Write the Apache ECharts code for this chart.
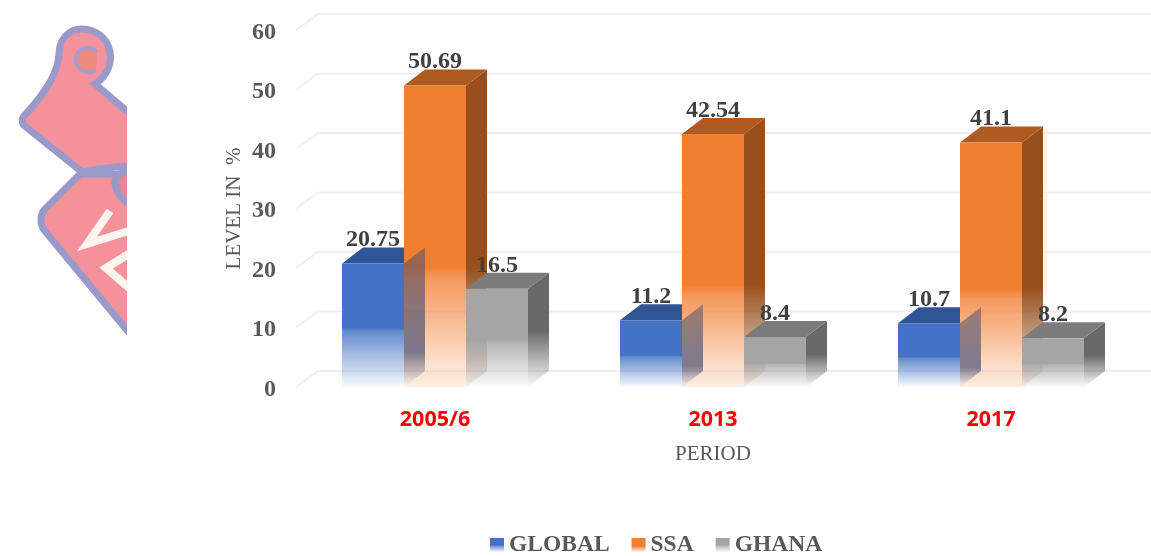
<!DOCTYPE html>
<html>
<head>
<meta charset="utf-8">
<style>html,body{margin:0;padding:0;background:#fff}#c{width:1151px;height:556px}</style>
<script src="https://cdn.jsdelivr.net/npm/echarts@6/dist/echarts.min.js"></script>
</head>
<body>
<div id="c"></div>
<script>
const categories = ['2005/6', '2013', '2017'];
const globalValues = [20.75, 11.2, 10.7];
const ssaValues = [50.69, 42.54, 41.1];
const ghanaValues = [16.5, 8.4, 8.2];
const yTicks = [0, 10, 20, 30, 40, 50, 60];

const SERIF = '"Liberation Serif","Times New Roman",serif';
const DX = 21, DY = 16, BAR_RATIO = 62 / 278;

function vGrad(stops) {
  return new echarts.graphic.LinearGradient(0, 0, 0, 1, stops.map(s => ({ offset: s[0], color: s[1] })));
}
function fade(rgb, knee) {
  return vGrad([
    [0, `rgba(${rgb},1)`], [knee, `rgba(${rgb},1)`],
    [knee + 0.03, `rgba(${rgb},0.82)`], [1, `rgba(${rgb},0.04)`]
  ]);
}
const looks = {
  GLOBAL: { front: fade('68,114,196', 0.52), top: '#2f5597', offset: -1,
    side: vGrad([[0, 'rgba(60,70,110,0.45)'], [0.5, 'rgba(60,70,110,0.6)'], [0.75, 'rgba(60,70,110,0.65)'], [1, 'rgba(60,70,110,0)']]), overlay: true },
  SSA: { front: vGrad([[0, 'rgba(241,127,49,1)'], [0.6, 'rgba(241,127,49,1)'], [0.64, 'rgba(241,135,65,0.85)'], [1, 'rgba(241,127,49,0.08)']]),
    top: '#ae5a21', offset: 0, floor: 'rgba(252,238,226,0.45)',
    side: vGrad([[0, '#964f1d'], [0.62, '#964f1d'], [1, 'rgba(150,79,29,0.08)']]) },
  GHANA: { front: fade('165,165,165', 0.52), top: '#7c7c7c', offset: 1,
    side: vGrad([[0, '#686868'], [0.5, '#686868'], [1, 'rgba(104,104,104,0.02)']]) }
};

function poly(points, fill) {
  return { type: 'polygon', shape: { points }, style: { fill }, silent: true };
}
function renderBar(name) {
  const look = looks[name];
  return function (params, api) {
    const idx = api.value(0), val = api.value(1);
    const topPt = api.coord([idx, val]), basePt = api.coord([idx, 0]);
    const w = api.size([1, 0])[0] * BAR_RATIO;
    const l = topPt[0] + look.offset * w - w / 2, r = l + w;
    const t = topPt[1], b = basePt[1];
    const children = [];
    if (look.floor) {
      children.push(poly([[l, b], [l + DX, b - DY], [r, b - DY], [r, b]], look.floor));
    }
    children.push(poly([[r, t], [r + DX, t - DY], [r + DX, b - DY], [r, b]], look.side));
    if (look.overlay) {
      children.push(poly([[l, t], [l + DX, t - DY], [r, t - DY], [r, t]], look.top));
    } else {
      children.push(poly([[l, t], [l + DX, t - DY], [r + DX, t - DY], [r, t]], look.top));
    }
    children.push({ type: 'rect', shape: { x: l, y: t, width: w, height: b - t }, style: { fill: look.front }, silent: true });
    children.push({
      type: 'text', z2: 50, silent: true,
      style: {
        x: (l + r) / 2, y: t - DY - 7.5, text: String(val), align: 'center', verticalAlign: 'middle',
        font: 'bold 24px ' + SERIF, fill: '#404040'
      }
    });
    return { type: 'group', children };
  };
}

function renderGridLine(params, api) {
  const cs = params.coordSys;
  const y = api.coord([0, api.value(0)])[1];
  return {
    type: 'polyline', silent: true,
    shape: { points: [[cs.x, y], [cs.x + DX + 1, y - DY], [1151, y - DY]] },
    style: { fill: 'none', stroke: '#efefef', lineWidth: 2 }
  };
}

const logoTop = 'M135 118 L95 84 C108 76 112 62 110 52 C107 35 92 29 82 29 C68 29 59 40 59 54 C58 70 50 88 24 116 C21 120 22 124 26 127 L82 172 C95 169 120 166 135 166 Z';
const logoBot = 'M80 174 L44 210 C40 216 40 224 44 230 L135 340 L135 174 Z';
const logoCurl = 'M135 170 C122 170 114 176 115 184 C116 194 124 202 135 206 Z';
const logoInner = 'M96 71 C84 76 75 67 76 58 C77 48 90 44 97 52';
const LOGO_FILL = '#f5919a', LOGO_EDGE = '#9a9aca';

function renderLogo() {
  const p = (d, style) => ({ type: 'path', silent: true, shape: { pathData: d }, style });
  return {
    type: 'group',
    children: [
      p(logoTop, { fill: LOGO_FILL, stroke: LOGO_EDGE, lineWidth: 7 }),
      p(logoBot, { fill: LOGO_FILL, stroke: LOGO_EDGE, lineWidth: 7 }),
      p(logoCurl, { fill: '#e8859a', stroke: LOGO_EDGE, lineWidth: 7 }),
      p(logoInner, { fill: '#ec8a80', stroke: '#a99bc8', lineWidth: 4 }),
      { type: 'polyline', silent: true, shape: { points: [[110, 211], [87, 244], [135, 229]] }, style: { fill: 'none', stroke: '#fdf3ef', lineWidth: 8 } },
      { type: 'polyline', silent: true, shape: { points: [[135, 250], [106, 268], [135, 293]] }, style: { fill: 'none', stroke: '#fdf3ef', lineWidth: 8 } },
      { type: 'rect', silent: true, shape: { x: 127, y: 0, width: 60, height: 400 }, style: { fill: '#ffffff' } }
    ]
  };
}

const chart = echarts.init(document.getElementById('c'));
chart.setOption({
  animation: false,
  backgroundColor: '#ffffff',
  grid: { left: 296, top: 30, width: 834, height: 357, containLabel: false },
  legend: {
    data: ['GLOBAL', 'SSA', 'GHANA'],
    left: 490, top: 533, padding: 0, icon: 'rect', itemWidth: 14, itemHeight: 14, itemGap: 22,
    textStyle: { fontFamily: SERIF, fontWeight: 'bold', fontSize: 23.5, color: '#595959' }
  },
  xAxis: {
    type: 'category', data: categories,
    axisLine: { show: false }, axisTick: { show: false }, splitLine: { show: false },
    axisLabel: { margin: 22, fontFamily: '"Open Sans"', fontWeight: 'bold', fontSize: 21.5, color: '#ff0000' },
    name: 'PERIOD', nameLocation: 'middle', nameGap: 57, nameMoveOverlap: false,
    nameTextStyle: { fontFamily: SERIF, fontSize: 21, color: '#595959' }
  },
  yAxis: {
    type: 'value', min: 0, max: 60, interval: 10,
    axisLine: { show: false }, axisTick: { show: false }, splitLine: { show: false },
    axisLabel: {
      margin: 20, formatter: '{a|{value}}',
      rich: { a: { fontFamily: SERIF, fontWeight: 'bold', fontSize: 24, color: '#595959', padding: [5, 0, 0, 0] } }
    },
    name: 'LEVEL IN  %', nameLocation: 'middle', nameGap: 51, nameRotate: 90, nameMoveOverlap: false,
    nameTextStyle: { fontFamily: SERIF, fontSize: 21, color: '#595959' }
  },
  series: [
    { type: 'custom', name: 'logo', coordinateSystem: 'none', silent: true, renderItem: renderLogo, data: [[0]], z: 0 },
    { type: 'custom', name: 'grid', silent: true, renderItem: renderGridLine, data: yTicks.map(v => [v]), encode: { y: 0 }, z: 1 },
    { type: 'custom', name: 'SSA', silent: true, renderItem: renderBar('SSA'), itemStyle: { color: looks.SSA.front }, encode: { x: 0, y: 1 },
      data: ssaValues.map((v, i) => [i, v]), z: 2 },
    { type: 'custom', name: 'GLOBAL', silent: true, renderItem: renderBar('GLOBAL'), itemStyle: { color: looks.GLOBAL.front }, encode: { x: 0, y: 1 },
      data: globalValues.map((v, i) => [i, v]), z: 3 },
    { type: 'custom', name: 'GHANA', silent: true, renderItem: renderBar('GHANA'), itemStyle: { color: looks.GHANA.front }, encode: { x: 0, y: 1 },
      data: ghanaValues.map((v, i) => [i, v]), z: 3 }
  ]
});
</script>
</body>
</html>
